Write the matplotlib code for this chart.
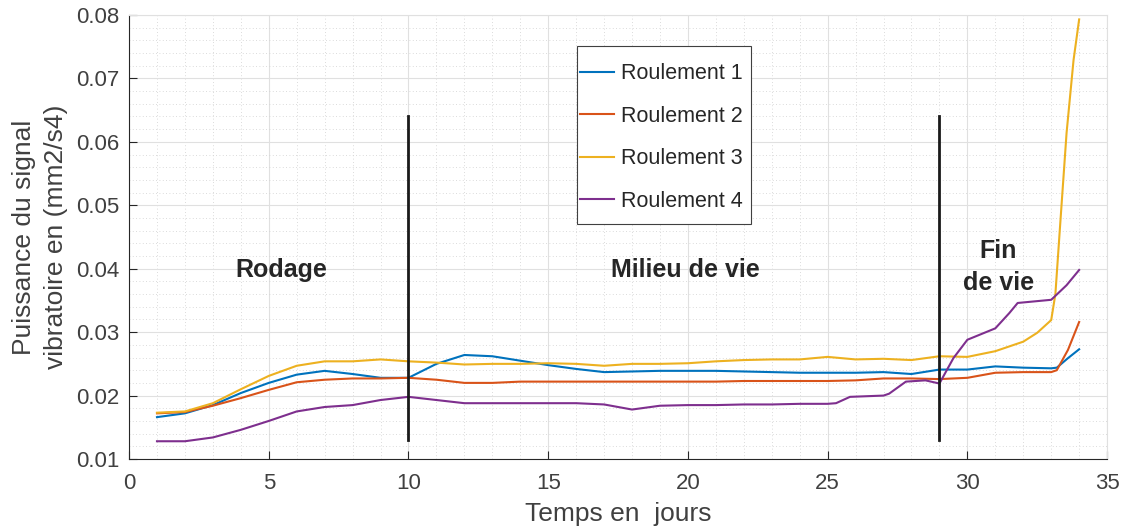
import matplotlib
matplotlib.use('Agg')
import matplotlib.pyplot as plt
from matplotlib.patches import Rectangle
from matplotlib.ticker import MultipleLocator, FormatStrFormatter

plt.rcParams['font.family'] = ['Liberation Sans', 'DejaVu Sans']

# data (days, signal power)
days_r1 = [1, 2, 3, 4, 5, 6, 7, 8, 9, 10, 11, 12, 13, 14, 15, 16, 17, 18, 19, 20, 21, 22,
           23, 24, 25, 26, 27, 28, 29, 30, 31, 32, 33, 33.2, 33.6, 34]
r1 = [0.0166, 0.0172, 0.0185, 0.0204, 0.0220, 0.0233, 0.0239, 0.0234, 0.0228, 0.0228, 0.0250,
      0.0264, 0.0262, 0.0255, 0.0248, 0.0242, 0.0237, 0.0238, 0.0239, 0.0239, 0.0239, 0.0238,
      0.0237, 0.0236, 0.0236, 0.0236, 0.0237, 0.0234, 0.0241, 0.0241, 0.0246, 0.0244, 0.0243,
      0.0244, 0.0259, 0.0273]

days_r2 = [1, 2, 3, 4, 5, 6, 7, 8, 9, 10, 11, 12, 13, 14, 15, 16, 17, 18, 19, 20, 21, 22,
           23, 24, 25, 26, 27, 28, 29, 30, 31, 32, 33, 33.2, 33.6, 34]
r2 = [0.0172, 0.0174, 0.0184, 0.0196, 0.0209, 0.0221, 0.0225, 0.0227, 0.0227, 0.0228, 0.0225,
      0.0220, 0.0220, 0.0222, 0.0222, 0.0222, 0.0222, 0.0222, 0.0222, 0.0222, 0.0222, 0.0223,
      0.0223, 0.0223, 0.0223, 0.0224, 0.0227, 0.0227, 0.0226, 0.0228, 0.0236, 0.0237, 0.0237,
      0.0240, 0.0272, 0.0316]

days_r3 = [1, 2, 3, 4, 5, 6, 7, 8, 9, 10, 11, 12, 13, 14, 15, 16, 17, 18, 19, 20, 21, 22,
           23, 24, 25, 26, 27, 28, 29, 30, 31, 32, 32.5, 33, 33.15, 33.3, 33.55, 33.8, 34]
r3 = [0.0173, 0.0175, 0.0188, 0.0210, 0.0231, 0.0247, 0.0254, 0.0254, 0.0257, 0.0254, 0.0252,
      0.0249, 0.0250, 0.0250, 0.0251, 0.0250, 0.0247, 0.0250, 0.0250, 0.0251, 0.0254, 0.0256,
      0.0257, 0.0257, 0.0261, 0.0257, 0.0258, 0.0256, 0.0262, 0.0261, 0.0270, 0.0285, 0.0299,
      0.0319, 0.0360, 0.0456, 0.0614, 0.0729, 0.0793]

days_r4 = [1, 2, 3, 4, 5, 6, 7, 8, 9, 10, 11, 12, 13, 14, 15, 16, 17, 18, 19, 20, 21, 22,
           23, 24, 25, 25.3, 25.8, 27, 27.2, 27.8, 28.5, 29, 29.5, 30, 31, 31.5, 31.8, 33, 33.55, 34]
r4 = [0.0128, 0.0128, 0.0134, 0.0146, 0.0160, 0.0175, 0.0182, 0.0185, 0.0193, 0.0198, 0.0193,
      0.0188, 0.0188, 0.0188, 0.0188, 0.0188, 0.0186, 0.0178, 0.0184, 0.0185, 0.0185, 0.0186,
      0.0186, 0.0187, 0.0187, 0.0188, 0.0198, 0.0200, 0.0203, 0.0222, 0.0224, 0.0219, 0.0259,
      0.0288, 0.0306, 0.0330, 0.0346, 0.0351, 0.0374, 0.0398]

labels = ['Roulement 1', 'Roulement 2', 'Roulement 3', 'Roulement 4']
colors = ['#0072BD', '#D95319', '#EDB120', '#7E2F8E']
phase_days = [10, 29]

fig = plt.figure(figsize=(11.26, 5.32), dpi=100)
ax = fig.add_axes([0.1146, 0.1372, 0.8686, 0.8346])

for d, v, lab, c in zip([days_r1, days_r2, days_r3, days_r4], [r1, r2, r3, r4], labels, colors):
    ax.plot(d, v, color=c, linewidth=1.5, label=lab)

for xd in phase_days:
    ax.plot([xd, xd], [0.013, 0.064], color='#1a1a1a', linewidth=2)

ax.set_xlim(0, 35)
ax.set_ylim(0.01, 0.08)
ax.xaxis.set_major_locator(MultipleLocator(5))
ax.xaxis.set_minor_locator(MultipleLocator(1))
ax.yaxis.set_major_locator(MultipleLocator(0.01))
ax.yaxis.set_minor_locator(MultipleLocator(0.002))
ax.yaxis.set_major_formatter(FormatStrFormatter('%.2f'))

ax.grid(which='major', color='#e0e0e0', linewidth=0.8)
ax.grid(which='minor', color='#cfcfcf', linestyle=(0, (1, 3)), linewidth=0.6)
ax.set_axisbelow(True)

ax.tick_params(which='major', direction='in', length=6, width=0.8, colors='#262626',
               labelsize=16, labelcolor='#404040', top=False, right=False)
ax.tick_params(axis='x', which='major', pad=10)
ax.tick_params(axis='y', which='major', pad=7)
ax.tick_params(which='minor', length=0)
for s in ['left', 'bottom']:
    ax.spines[s].set_color('#262626')
for s in ['top', 'right']:
    ax.spines[s].set_color('#e0e0e0')

ax.set_xlabel('Temps en  jours', fontsize=19, color='#404040', labelpad=6)
ax.set_ylabel('Puissance du signal\nvibratoire en (mm2/s4)', fontsize=19, color='#404040',
              labelpad=6, linespacing=1.4)

ax.text(5.45, 0.0398, 'Rodage', fontsize=18, fontweight='bold', color='#262626',
        ha='center', va='center')
ax.text(19.9, 0.0398, 'Milieu de vie', fontsize=18, fontweight='bold', color='#262626',
        ha='center', va='center')
ax.text(31.1, 0.0403, 'Fin\nde vie', fontsize=18, fontweight='bold', color='#262626',
        ha='center', va='center', linespacing=1.45)

# legend box drawn separately so the padding matches
ax.add_patch(Rectangle((0.458, 0.529), 0.178, 0.401, transform=ax.transAxes,
                       facecolor='white', edgecolor='#404040', linewidth=0.8, zorder=4))
leg = ax.legend(loc='upper left', bbox_to_anchor=(0.461, 0.891), fontsize=15.5,
                frameon=False, labelspacing=1.0, handlelength=1.6, handletextpad=0.3,
                borderpad=0, borderaxespad=0)
leg.set_zorder(5)
for t in leg.get_texts():
    t.set_color('#262626')

fig.savefig('out.png', dpi=100)
